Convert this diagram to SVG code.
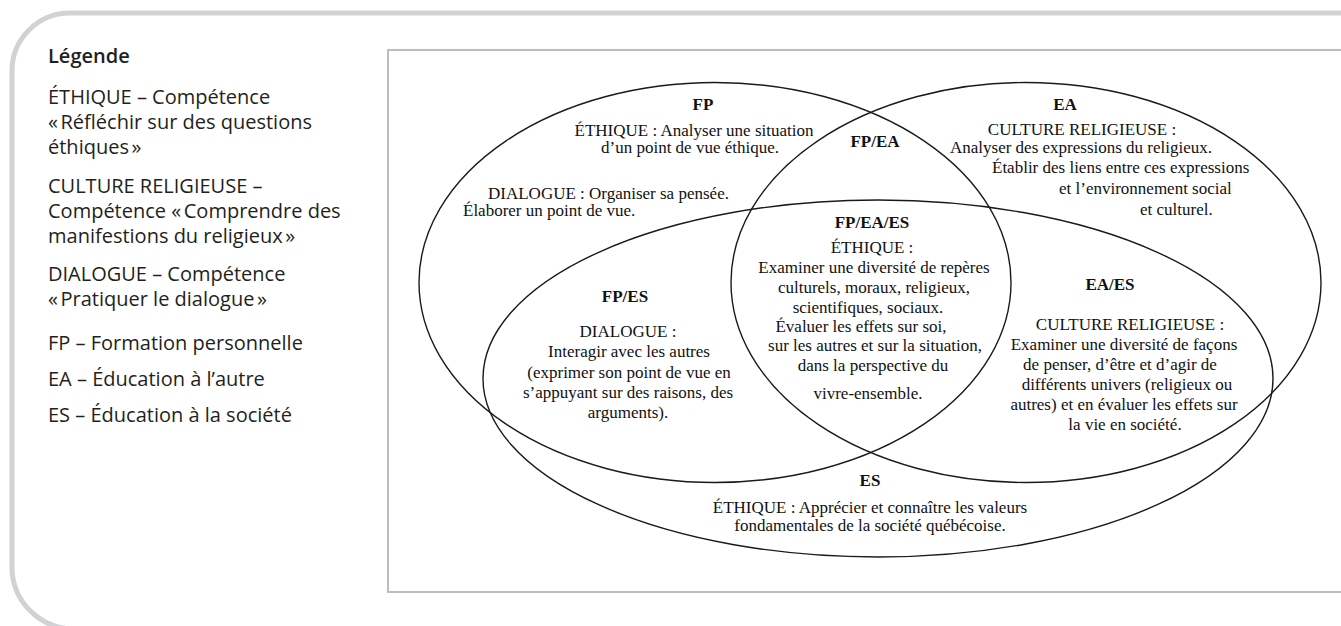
<svg xmlns="http://www.w3.org/2000/svg" width="1341" height="626" viewBox="0 0 1341 626">
<style>
.leg{font-family:"Open Sans","Noto Sans",sans-serif;font-size:20px;fill:#231f20}
.legh{font-weight:600}
.t{font-family:"Liberation Serif","Times New Roman",serif;font-size:17px;fill:#111}
.b{font-family:"Liberation Serif","Times New Roman",serif;font-size:17px;font-weight:bold;fill:#111}
.m{text-anchor:middle}
.ell{fill:none;stroke:#1a1a1a;stroke-width:1.4}
</style>
<rect width="1341" height="626" fill="#fff"/>
<g id="outer-frame">
<path d="M 1345 13 H 70 A 58 58 0 0 0 12 71 V 567 A 62 62 0 0 0 74 629 H 1345" fill="none" stroke="#d1d2d4" stroke-width="5"/>
</g>
<g id="legend">
<text class="leg legh" x="48" y="63">Légende</text>
<text class="leg" x="48" y="104">ÉTHIQUE – Compétence</text>
<text class="leg" x="48" y="129">«&#8239;Réfléchir sur des questions</text>
<text class="leg" x="48" y="154">éthiques&#8239;»</text>
<text class="leg" x="48" y="193">CULTURE RELIGIEUSE –</text>
<text class="leg" x="48" y="218">Compétence «&#8239;Comprendre des</text>
<text class="leg" x="48" y="243">manifestions du religieux&#8239;»</text>
<text class="leg" x="48" y="281">DIALOGUE – Compétence</text>
<text class="leg" x="48" y="306">«&#8239;Pratiquer le dialogue&#8239;»</text>
<text class="leg" x="48" y="350">FP – Formation personnelle</text>
<text class="leg" x="48" y="386">EA – Éducation à l’autre</text>
<text class="leg" x="48" y="422">ES – Éducation à la société</text>
</g>
<g id="diagram-frame">
<path d="M 1345 50 H 388 V 592 H 1345" fill="none" stroke="#bcbcbc" stroke-width="2"/>
</g>
<g id="connectors">
<ellipse id="ellipse-FP" class="ell" cx="715" cy="282.5" rx="296" ry="200"/>
<ellipse id="ellipse-EA" class="ell" cx="1026" cy="282.5" rx="295" ry="200"/>
<ellipse id="ellipse-ES" class="ell" cx="878" cy="378.5" rx="395" ry="178.5"/>
</g>
<g id="node-FP">
<text class="b m" x="703" y="110">FP</text>
<text class="t m" x="694" y="136">ÉTHIQUE : Analyser une situation</text>
<text class="t m" x="690" y="153">d’un point de vue éthique.</text>
<text class="t" x="488" y="199">DIALOGUE : Organiser sa pensée.</text>
<text class="t" x="463" y="216">Élaborer un point de vue.</text>
</g>
<g id="node-EA">
<text class="b m" x="1065" y="110">EA</text>
<text class="t m" x="1082" y="135">CULTURE RELIGIEUSE :</text>
<text class="t m" x="1081" y="153">Analyser des expressions du religieux.</text>
<text class="t" x="992" y="173">Établir des liens entre ces expressions</text>
<text class="t" x="1059" y="194">et l’environnement social</text>
<text class="t" x="1140" y="215">et culturel.</text>
</g>
<g id="node-FP-EA">
<text class="b m" x="875" y="147">FP/EA</text>
</g>
<g id="node-FP-EA-ES">
<text class="b m" x="872" y="228">FP/EA/ES</text>
<text class="t m" x="872" y="253">ÉTHIQUE :</text>
<text class="t m" x="874" y="273">Examiner une diversité de repères</text>
<text class="t m" x="874" y="293">culturels, moraux, religieux,</text>
<text class="t m" x="868" y="313">scientifiques, sociaux.</text>
<text class="t m" x="861" y="332">Évaluer les effets sur soi,</text>
<text class="t m" x="875" y="351">sur les autres et sur la situation,</text>
<text class="t m" x="873" y="371">dans la perspective du</text>
<text class="t m" x="868" y="399">vivre-ensemble.</text>
</g>
<g id="node-FP-ES">
<text class="b m" x="625" y="302">FP/ES</text>
<text class="t m" x="628" y="337">DIALOGUE :</text>
<text class="t m" x="629" y="357">Interagir avec les autres</text>
<text class="t m" x="629" y="378">(exprimer son point de vue en</text>
<text class="t m" x="628" y="398">s’appuyant sur des raisons, des</text>
<text class="t m" x="628" y="418">arguments).</text>
</g>
<g id="node-EA-ES">
<text class="b m" x="1110" y="290">EA/ES</text>
<text class="t m" x="1130" y="330">CULTURE RELIGIEUSE :</text>
<text class="t m" x="1124" y="350">Examiner une diversité de façons</text>
<text class="t m" x="1120" y="370">de penser, d’être et d’agir de</text>
<text class="t m" x="1127" y="390">différents univers (religieux ou</text>
<text class="t m" x="1124" y="410">autres) et en évaluer les effets sur</text>
<text class="t m" x="1125" y="430">la vie en société.</text>
</g>
<g id="node-ES">
<text class="b m" x="870" y="486">ES</text>
<text class="t m" x="870" y="513">ÉTHIQUE : Apprécier et connaître les valeurs</text>
<text class="t m" x="870" y="531">fondamentales de la société québécoise.</text>
</g>
</svg>
